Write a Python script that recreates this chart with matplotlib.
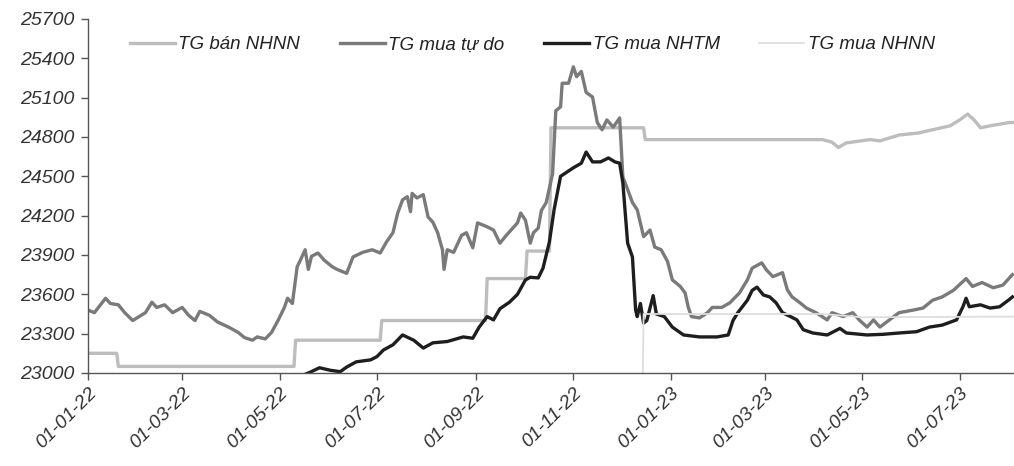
import pandas as pd
import matplotlib
matplotlib.use('Agg')
import matplotlib.pyplot as plt
import matplotlib.dates as mdates

# TG bán NHNN (SBV selling rate)
ban_nhnn_dates = ['2022-01-01', '2022-01-19', '2022-01-20', '2022-05-10', '2022-05-11',
                  '2022-07-03', '2022-07-04', '2022-09-07', '2022-09-08', '2022-10-02',
                  '2022-10-03', '2022-10-17', '2022-10-18', '2022-12-15', '2022-12-16',
                  '2023-04-06', '2023-04-12', '2023-04-16', '2023-04-21', '2023-05-06',
                  '2023-05-12', '2023-05-24', '2023-06-05', '2023-06-14', '2023-06-25',
                  '2023-07-01', '2023-07-06', '2023-07-10', '2023-07-14', '2023-07-20',
                  '2023-08-01', '2023-08-04']
ban_nhnn_vals = [23150, 23150, 23050, 23050, 23250,
                 23250, 23400, 23400, 23720, 23720,
                 23930, 23930, 24870, 24870, 24780,
                 24780, 24760, 24720, 24755, 24780,
                 24770, 24815, 24830, 24855, 24885,
                 24930, 24975, 24930, 24870, 24885,
                 24910, 24910]

# TG mua tự do (free market buying rate)
tudo_dates = ['2022-01-01', '2022-01-05', '2022-01-12', '2022-01-15', '2022-01-20', '2022-01-24',
              '2022-01-29', '2022-02-06', '2022-02-10', '2022-02-13', '2022-02-18', '2022-02-23',
              '2022-03-01', '2022-03-05', '2022-03-09', '2022-03-12', '2022-03-18', '2022-03-23',
              '2022-03-30', '2022-04-05', '2022-04-09', '2022-04-14', '2022-04-17', '2022-04-22',
              '2022-04-26', '2022-04-30', '2022-05-04', '2022-05-06', '2022-05-09', '2022-05-12',
              '2022-05-14', '2022-05-17', '2022-05-19', '2022-05-21', '2022-05-25', '2022-05-29',
              '2022-06-03', '2022-06-06', '2022-06-12', '2022-06-16', '2022-06-22', '2022-06-28',
              '2022-07-03', '2022-07-07', '2022-07-11', '2022-07-14', '2022-07-17', '2022-07-20',
              '2022-07-22', '2022-07-23', '2022-07-26', '2022-07-30', '2022-08-02', '2022-08-05',
              '2022-08-08', '2022-08-11', '2022-08-12', '2022-08-14', '2022-08-18', '2022-08-23',
              '2022-08-26', '2022-08-30', '2022-09-02', '2022-09-08', '2022-09-12', '2022-09-16',
              '2022-09-20', '2022-09-27', '2022-09-29', '2022-10-02', '2022-10-05', '2022-10-07',
              '2022-10-10', '2022-10-12', '2022-10-15', '2022-10-19', '2022-10-21', '2022-10-24',
              '2022-10-25', '2022-10-29', '2022-11-01', '2022-11-03', '2022-11-06', '2022-11-09',
              '2022-11-13', '2022-11-16', '2022-11-19', '2022-11-22', '2022-11-26', '2022-11-30',
              '2022-12-02', '2022-12-05', '2022-12-08', '2022-12-11', '2022-12-15', '2022-12-19',
              '2022-12-22', '2022-12-26', '2022-12-30', '2023-01-02', '2023-01-07', '2023-01-10',
              '2023-01-12', '2023-01-14', '2023-01-19', '2023-01-24', '2023-01-27', '2023-02-02',
              '2023-02-07', '2023-02-13', '2023-02-18', '2023-02-21', '2023-02-27', '2023-03-02',
              '2023-03-06', '2023-03-12', '2023-03-15', '2023-03-18', '2023-03-23', '2023-03-27',
              '2023-04-02', '2023-04-09', '2023-04-12', '2023-04-19', '2023-04-25', '2023-04-29',
              '2023-05-04', '2023-05-08', '2023-05-12', '2023-05-18', '2023-05-24', '2023-06-02',
              '2023-06-08', '2023-06-14', '2023-06-20', '2023-06-27', '2023-07-05', '2023-07-09',
              '2023-07-15', '2023-07-22', '2023-07-28', '2023-08-03']
tudo_vals = [23480, 23460, 23570, 23530, 23520, 23460,
             23400, 23460, 23540, 23500, 23520, 23460,
             23500, 23440, 23400, 23470, 23440, 23390,
             23350, 23310, 23270, 23250, 23275, 23260,
             23310, 23400, 23500, 23570, 23530, 23810,
             23860, 23940, 23790, 23890, 23915, 23860,
             23810, 23790, 23760, 23885, 23920, 23940,
             23915, 24000, 24070, 24220, 24320, 24345,
             24230, 24370, 24335, 24360, 24190, 24150,
             24070, 23940, 23790, 23940, 23920, 24050,
             24070, 23955, 24145, 24115, 24090, 23990,
             24050, 24145, 24220, 24165, 23990, 24070,
             24105, 24240, 24300, 24520, 25000, 25030,
             25210, 25210, 25335, 25260, 25300, 25140,
             25105, 24910, 24855, 24930, 24875, 24945,
             24495, 24400, 24300, 24245, 24040, 24090,
             23960, 23940, 23850, 23710, 23660, 23610,
             23500, 23430, 23420, 23460, 23500, 23500,
             23535, 23610, 23710, 23800, 23840, 23785,
             23735, 23765, 23635, 23580, 23535, 23495,
             23460, 23405, 23460, 23430, 23460, 23405,
             23350, 23405, 23350, 23405, 23460, 23480,
             23495, 23555, 23580, 23630, 23720, 23660,
             23690, 23650, 23670, 23750]

# TG mua NHTM (commercial bank buying rate)
nhtm_dates = ['2022-01-01', '2022-05-11', '2022-05-20', '2022-05-26', '2022-06-02', '2022-06-08',
              '2022-06-12', '2022-06-18', '2022-06-27', '2022-07-01', '2022-07-05', '2022-07-11',
              '2022-07-17', '2022-07-24', '2022-07-30', '2022-08-05', '2022-08-14', '2022-08-24',
              '2022-08-30', '2022-09-03', '2022-09-08', '2022-09-12', '2022-09-16', '2022-09-22',
              '2022-09-27', '2022-10-02', '2022-10-05', '2022-10-10', '2022-10-13', '2022-10-17',
              '2022-10-20', '2022-10-24', '2022-11-01', '2022-11-06', '2022-11-09', '2022-11-13',
              '2022-11-18', '2022-11-23', '2022-11-27', '2022-11-30', '2022-12-02', '2022-12-05',
              '2022-12-08', '2022-12-10', '2022-12-11', '2022-12-13', '2022-12-15', '2022-12-17',
              '2022-12-21', '2022-12-23', '2022-12-28', '2023-01-02', '2023-01-09', '2023-01-19',
              '2023-01-30', '2023-02-06', '2023-02-09', '2023-02-12', '2023-02-18', '2023-02-21',
              '2023-02-24', '2023-02-28', '2023-03-04', '2023-03-08', '2023-03-12', '2023-03-17',
              '2023-03-21', '2023-03-25', '2023-03-31', '2023-04-09', '2023-04-17', '2023-04-21',
              '2023-05-04', '2023-05-14', '2023-05-24', '2023-06-04', '2023-06-12', '2023-06-20',
              '2023-06-29', '2023-07-03', '2023-07-05', '2023-07-07', '2023-07-14', '2023-07-20',
              '2023-07-26', '2023-08-01', '2023-08-03']
nhtm_vals = [22700, 22960, 23005, 23040, 23020, 23010,
             23045, 23085, 23100, 23125, 23175, 23215,
             23290, 23250, 23190, 23230, 23240, 23275,
             23265, 23350, 23430, 23405, 23490, 23540,
             23600, 23710, 23730, 23725, 23800, 24000,
             24250, 24500, 24565, 24600, 24685, 24610,
             24610, 24640, 24610, 24600, 24450, 23990,
             23885, 23480, 23430, 23530, 23380, 23400,
             23590, 23450, 23430, 23350, 23290, 23275,
             23275, 23290, 23400, 23460, 23555, 23630,
             23655, 23595, 23580, 23535, 23460, 23430,
             23405, 23330, 23305, 23290, 23340, 23305,
             23290, 23295, 23305, 23315, 23350, 23365,
             23405, 23505, 23570, 23505, 23520, 23495,
             23505, 23560, 23580]

# TG mua NHNN (SBV buying rate)
mua_nhnn_dates = ['2022-01-01', '2022-12-14', '2022-12-15', '2023-04-06', '2023-05-01', '2023-08-04']
mua_nhnn_vals = [22550, 22550, 23450, 23450, 23425, 23430]

ytick_vals = list(range(23000, 25701, 300))
xtick_dates = ['2022-01-01', '2022-03-01', '2022-05-01', '2022-07-01', '2022-09-01',
               '2022-11-01', '2023-01-01', '2023-03-01', '2023-05-01', '2023-07-01']

plt.rcParams['font.family'] = ['Liberation Sans Narrow', 'Liberation Sans', 'DejaVu Sans']
plt.rcParams['font.style'] = 'italic'

fig = plt.figure(figsize=(10.14, 4.66), dpi=100)
ax = fig.add_axes([0.0868, 0.1996, 0.9132, 0.7597])

ax.plot(pd.to_datetime(ban_nhnn_dates), ban_nhnn_vals, color='#bdbdbd', lw=2.4, label='TG bán NHNN')
ax.plot(pd.to_datetime(tudo_dates), tudo_vals, color='#7a7a7a', lw=2.4, label='TG mua tự do')
ax.plot(pd.to_datetime(nhtm_dates), nhtm_vals, color='#1e1e1e', lw=2.4, label='TG mua NHTM')
ax.plot(pd.to_datetime(mua_nhnn_dates), mua_nhnn_vals, color='#dedede', lw=1.3,
        label='TG mua NHNN')

ax.set_ylim(23000, 25700)
ax.set_xlim(pd.Timestamp('2022-01-01'), pd.Timestamp('2023-08-04'))
ax.set_yticks(ytick_vals)
ax.set_yticklabels([str(v) for v in ytick_vals])
ax.set_xticks(pd.to_datetime(xtick_dates))
ax.xaxis.set_major_formatter(mdates.DateFormatter('%d-%m-%y'))

for s in ['top', 'right']:
    ax.spines[s].set_visible(False)
for s in ['left', 'bottom']:
    ax.spines[s].set_color('#555555')
    ax.spines[s].set_linewidth(1.0)

ax.tick_params(axis='both', direction='out', length=5, width=1, color='#555555',
               labelsize=14, labelcolor='#333333')
ax.tick_params(axis='y', pad=5)
for lbl in ax.get_xticklabels():
    lbl.set_rotation(45)
    lbl.set_ha('right')
    lbl.set_rotation_mode('anchor')

leg = ax.legend(loc='center left', bbox_to_anchor=(0.045, 0.927), ncol=4, frameon=False,
                fontsize=13.5, handlelength=2.4, handletextpad=0.2, columnspacing=2.1,
                borderaxespad=0, borderpad=0)
for t in leg.get_texts():
    t.set_color('#222222')

fig.savefig('out.png', dpi=100)
